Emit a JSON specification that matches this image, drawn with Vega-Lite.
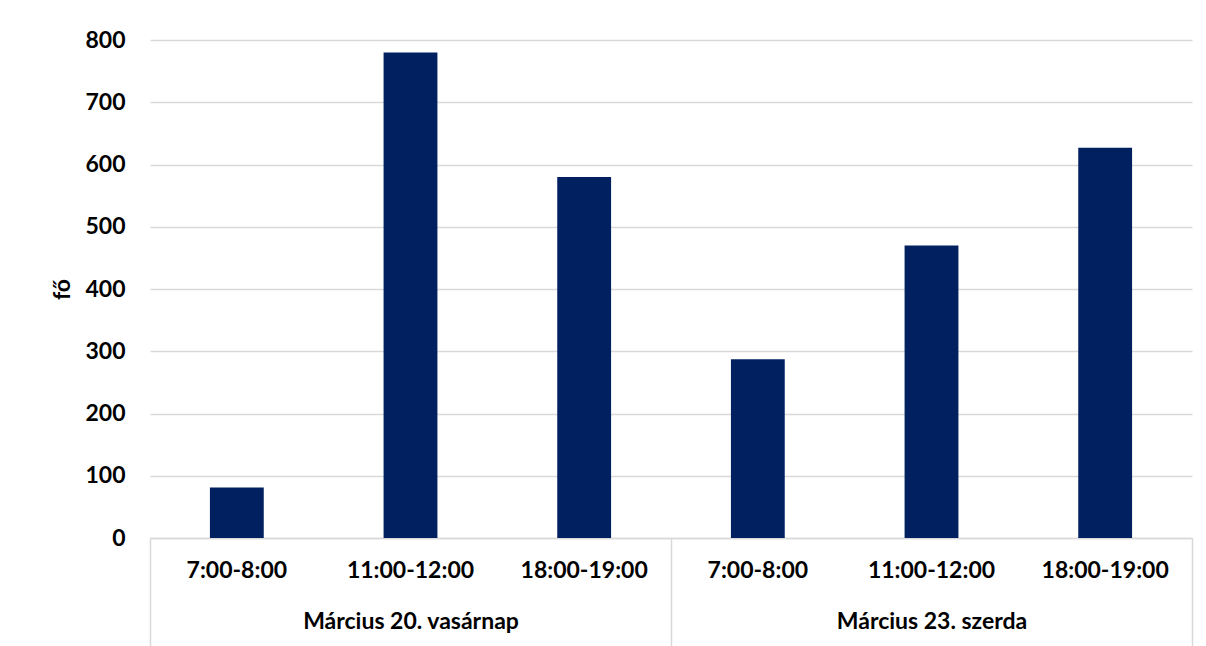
{
  "$schema": "https://vega.github.io/schema/vega-lite/v6.json",
  "autosize": "none",
  "width": 1042,
  "height": 498,
  "padding": {"left": 150, "top": 40, "right": 14, "bottom": 108},
  "background": "white",
  "config": {
    "view": {"stroke": null},
    "font": "Lato",
    "axis": {"labelFont": "Lato", "titleFont": "Lato", "labelColor": "#000000", "titleColor": "#000000"}
  },
  "data": {
    "values": [
      {"day": "Március 20. vasárnap", "time": "7:00-8:00", "key": "1|7:00-8:00", "fo": 81},
      {"day": "Március 20. vasárnap", "time": "11:00-12:00", "key": "2|11:00-12:00", "fo": 780},
      {"day": "Március 20. vasárnap", "time": "18:00-19:00", "key": "3|18:00-19:00", "fo": 580},
      {"day": "Március 23. szerda", "time": "7:00-8:00", "key": "4|7:00-8:00", "fo": 287},
      {"day": "Március 23. szerda", "time": "11:00-12:00", "key": "5|11:00-12:00", "fo": 470},
      {"day": "Március 23. szerda", "time": "18:00-19:00", "key": "6|18:00-19:00", "fo": 627}
    ]
  },
  "layer": [
    {
      "mark": {"type": "bar", "color": "#002060"},
      "encoding": {
        "x": {
          "field": "key",
          "type": "nominal",
          "sort": null,
          "scale": {"paddingInner": 0.69, "paddingOuter": 0.345},
          "axis": {
            "orient": "bottom",
            "title": null,
            "labelAngle": 0,
            "labelExpr": "split(datum.label, '|')[1]",
            "ticks": false,
            "domain": true,
            "domainColor": "#d9d9d9",
            "domainWidth": 1.5,
            "labelPadding": 21,
            "labelFontSize": 23,
            "labelFontWeight": "bold",
            "labelBaseline": "top",
            "labelLimit": 0
          }
        },
        "y": {
          "field": "fo",
          "type": "quantitative",
          "scale": {"domain": [0, 800], "nice": false},
          "axis": {
            "title": "fő",
            "values": [0, 100, 200, 300, 400, 500, 600, 700, 800],
            "grid": true,
            "gridColor": "#d9d9d9",
            "gridWidth": 1.5,
            "ticks": false,
            "domain": false,
            "labelPadding": 25,
            "labelFontSize": 23,
            "labelFontWeight": "bold",
            "titleFontSize": 23,
            "titleFontWeight": "bold",
            "titlePadding": 10
          }
        }
      }
    },
    {
      "mark": {"type": "rule", "opacity": 0},
      "encoding": {
        "x": {
          "field": "day",
          "type": "nominal",
          "scale": {"paddingInner": 0, "paddingOuter": 0},
          "axis": {
            "orient": "bottom",
            "title": null,
            "labelAngle": 0,
            "tickBand": "extent",
            "ticks": true,
            "tickSize": 108,
            "tickColor": "#d9d9d9",
            "tickWidth": 1.5,
            "domain": false,
            "labelPadding": -36,
            "labelFontSize": 23,
            "labelFontWeight": "bold",
            "labelBaseline": "top",
            "labelLimit": 0
          }
        }
      }
    }
  ],
  "resolve": {"scale": {"x": "independent"}, "axis": {"x": "independent"}}
}
